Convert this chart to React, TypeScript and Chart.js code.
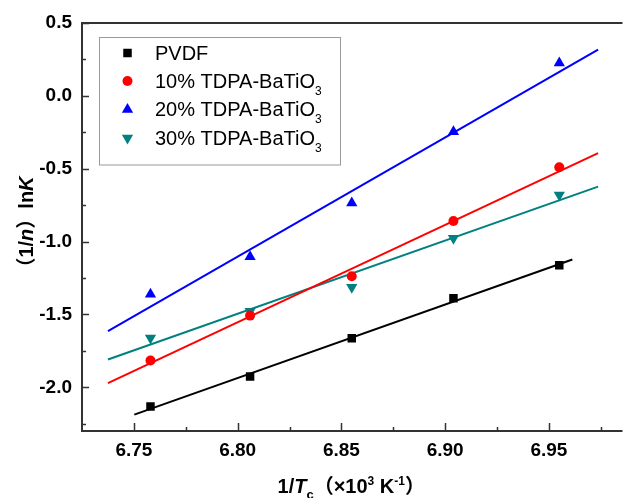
import React, { useEffect, useRef } from "react";
import { Chart, registerables } from "chart.js";

Chart.register(...registerables);

// ---- data ----
const xValues = [6.758, 6.806, 6.855, 6.904, 6.955];
const pvdf = [-2.132, -1.926, -1.664, -1.389, -1.162];
const tdpa10 = [-1.816, -1.508, -1.238, -0.859, -0.49];
const tdpa20 = [-1.362, -1.105, -0.736, -0.247, 0.226];
const tdpa30 = [-1.662, -1.479, -1.313, -0.978, -0.68];

// fitted line end points
const fitX = [6.7375, 6.9737];
const fitXPvdf = [6.7502, 6.9613];
const fitPvdf = [-2.188, -1.123];
const fit10 = [-1.972, -0.393];
const fit20 = [-1.614, 0.318];
const fit30 = [-1.809, -0.623];

const xTicks = [6.75, 6.8, 6.85, 6.9, 6.95];
const xMinorTicks = [6.775, 6.825, 6.875, 6.925, 6.975];
const yTicks = [-2.0, -1.5, -1.0, -0.5, 0.0, 0.5];
const yMinorTicks = [-2.25, -1.75, -1.25, -0.75, -0.25, 0.25];

const seriesNames = ["PVDF", "10% TDPA-BaTiO", "20% TDPA-BaTiO", "30% TDPA-BaTiO"];
const seriesSubs = ["", "3", "3", "3"];
const colors = ["#000000", "#ff0000", "#0000ff", "#008080"];

const FONT = '"Liberation Sans", Arial, "Noto Sans CJK SC", sans-serif';

type Run = { t: string; f: string; dy?: number };

function runsWidth(ctx: CanvasRenderingContext2D, runs: Run[]) {
  let w = 0;
  for (const r of runs) {
    ctx.font = r.f;
    w += ctx.measureText(r.t).width;
  }
  return w;
}
function drawRuns(ctx: CanvasRenderingContext2D, runs: Run[], x: number, y: number) {
  let cx = x;
  for (const r of runs) {
    ctx.font = r.f;
    ctx.fillText(r.t, cx, y + (r.dy || 0));
    cx += ctx.measureText(r.t).width;
  }
}

function drawMarker(ctx: CanvasRenderingContext2D, kind: number, x: number, y: number, color: string) {
  ctx.fillStyle = color;
  ctx.beginPath();
  if (kind === 0) {
    ctx.rect(x - 4.25, y - 4.25, 8.5, 8.5);
  } else if (kind === 1) {
    ctx.arc(x, y, 5, 0, Math.PI * 2);
  } else if (kind === 2) {
    const r = 6.5;
    ctx.moveTo(x, y - r);
    ctx.lineTo(x + r * 0.866, y + r / 2);
    ctx.lineTo(x - r * 0.866, y + r / 2);
  } else {
    const r = 6.5;
    ctx.moveTo(x, y + r);
    ctx.lineTo(x + r * 0.866, y - r / 2);
    ctx.lineTo(x - r * 0.866, y - r / 2);
  }
  ctx.closePath();
  ctx.fill();
}

const decoPlugin = {
  id: "deco",
  afterDraw(chart: any) {
    const { ctx, chartArea: a, scales } = chart;
    const xs = scales.x;
    const ys = scales.y;
    ctx.save();
    // axes frame (left, bottom, top)
    ctx.strokeStyle = "#333333";
    ctx.lineWidth = 2;
    ctx.beginPath();
    ctx.moveTo(a.right + 2, a.top);
    ctx.lineTo(a.left, a.top);
    ctx.lineTo(a.left, a.bottom);
    ctx.lineTo(a.right + 2, a.bottom);
    ctx.stroke();
    // ticks
    ctx.lineWidth = 1.5;
    ctx.beginPath();
    for (const v of xTicks) {
      const px = Math.round(xs.getPixelForValue(v)) + 0.5;
      ctx.moveTo(px, a.bottom);
      ctx.lineTo(px, a.bottom - 8);
    }
    for (const v of xMinorTicks) {
      const px = Math.round(xs.getPixelForValue(v)) + 0.5;
      ctx.moveTo(px, a.bottom);
      ctx.lineTo(px, a.bottom - 4);
    }
    for (const v of yTicks) {
      const py = Math.round(ys.getPixelForValue(v)) + 0.5;
      ctx.moveTo(a.left, py);
      ctx.lineTo(a.left + 7, py);
    }
    for (const v of yMinorTicks) {
      const py = Math.round(ys.getPixelForValue(v)) + 0.5;
      ctx.moveTo(a.left, py);
      ctx.lineTo(a.left + 4, py);
    }
    ctx.stroke();

    // legend
    ctx.strokeStyle = "#999999";
    ctx.lineWidth = 1;
    ctx.fillStyle = "#ffffff";
    ctx.fillRect(99.5, 37.5, 241, 127.5);
    ctx.strokeRect(99.5, 37.5, 241, 127.5);
    const baselines = [59.5, 87.5, 116, 144.5];
    ctx.textBaseline = "alphabetic";
    ctx.textAlign = "left";
    for (let i = 0; i < seriesNames.length; i++) {
      drawMarker(ctx, i, 127.5, baselines[i] - 6.5, colors[i]);
      ctx.fillStyle = "#000";
      const runs: Run[] = [{ t: seriesNames[i], f: `20px ${FONT}` }];
      if (seriesSubs[i]) runs.push({ t: seriesSubs[i], f: `12px ${FONT}`, dy: 7 });
      drawRuns(ctx, runs, 155, baselines[i]);
    }

    // x title
    ctx.fillStyle = "#000";
    const xRuns: Run[] = [
      { t: "1/", f: `bold 20px ${FONT}` },
      { t: "T", f: `italic bold 20px ${FONT}` },
      { t: "c", f: `bold 13px ${FONT}`, dy: 6 },
      { t: "（×10", f: `bold 20px ${FONT}` },
      { t: "3", f: `bold 12px ${FONT}`, dy: -8 },
      { t: " K", f: `bold 20px ${FONT}` },
      { t: "-1", f: `bold 12px ${FONT}`, dy: -8 },
      { t: "）", f: `bold 20px ${FONT}` },
    ];
    const xw = runsWidth(ctx, xRuns);
    drawRuns(ctx, xRuns, (a.left + a.right) / 2 - xw / 2, 493);

    // y title
    const yRuns: Run[] = [
      { t: "（1/", f: `bold 20px ${FONT}` },
      { t: "n", f: `italic bold 20px ${FONT}` },
      { t: "）ln", f: `bold 20px ${FONT}` },
      { t: "K", f: `italic bold 20px ${FONT}` },
    ];
    const yw = runsWidth(ctx, yRuns);
    ctx.translate(33, (a.top + a.bottom) / 2);
    ctx.rotate(-Math.PI / 2);
    drawRuns(ctx, yRuns, -yw / 2, 0);
    ctx.restore();
  },
};

export default function App() {
  const ref = useRef<HTMLCanvasElement | null>(null);
  useEffect(() => {
    if (!ref.current) return;
    const pts = (ys: number[]) => xValues.map((x, i) => ({ x, y: ys[i] }));
    const line = (xs: number[], ys: number[]) => xs.map((x, i) => ({ x, y: ys[i] }));
    const scatterBase = { showLine: false, borderWidth: 0 };
    const lineBase = { showLine: true, pointRadius: 0, borderWidth: 2, fill: false };
    const chart = new Chart(ref.current, {
      type: "scatter",
      data: {
        datasets: [
          { ...scatterBase, label: seriesNames[0], data: pts(pvdf), pointStyle: "rect", pointRadius: 6, backgroundColor: colors[0], borderColor: colors[0] },
          { ...scatterBase, label: seriesNames[1], data: pts(tdpa10), pointStyle: "circle", pointRadius: 5, backgroundColor: colors[1], borderColor: colors[1] },
          { ...scatterBase, label: seriesNames[2], data: pts(tdpa20), pointStyle: "triangle", pointRadius: 6.5, backgroundColor: colors[2], borderColor: colors[2] },
          { ...scatterBase, label: seriesNames[3], data: pts(tdpa30), pointStyle: "triangle", rotation: 180, pointRadius: 6.5, backgroundColor: colors[3], borderColor: colors[3] },
          { ...lineBase, label: "fit0", data: line(fitXPvdf, fitPvdf), borderColor: colors[0] },
          { ...lineBase, label: "fit1", data: line(fitX, fit10), borderColor: colors[1] },
          { ...lineBase, label: "fit2", data: line(fitX, fit20), borderColor: colors[2] },
          { ...lineBase, label: "fit3", data: line(fitX, fit30), borderColor: colors[3] },
        ] as any,
      },
      options: {
        animation: false,
        responsive: false,
        maintainAspectRatio: false,
        devicePixelRatio: 1,
        layout: { padding: { top: 23, left: 0, right: 0, bottom: 0 } },
        plugins: { legend: { display: false }, tooltip: { enabled: false } },
        scales: {
          x: {
            type: "linear",
            position: "bottom",
            min: 6.725,
            max: 6.9845,
            afterBuildTicks: (s: any) => {
              s.ticks = xTicks.map((v) => ({ value: v }));
            },
            afterFit: (s: any) => {
              s.height = 67;
            },
            ticks: {
              autoSkip: false,
              maxRotation: 0,
              padding: 8,
              color: "#000",
              font: { family: FONT, size: 19, weight: "bold" },
              callback: (v: any) => Number(v).toFixed(2),
            },
            grid: { display: false, drawTicks: false },
            border: { display: false },
          },
          y: {
            type: "linear",
            min: -2.3,
            max: 0.5,
            afterBuildTicks: (s: any) => {
              s.ticks = yTicks.map((v) => ({ value: v }));
            },
            afterFit: (s: any) => {
              s.width = 82;
            },
            ticks: {
              autoSkip: false,
              padding: 10,
              color: "#000",
              font: { family: FONT, size: 19, weight: "bold" },
              callback: (v: any) => Number(v).toFixed(1),
            },
            grid: { display: false, drawTicks: false },
            border: { display: false },
          },
        },
      } as any,
      plugins: [decoPlugin],
    });
    return () => chart.destroy();
  }, []);
  return (
    <div style={{ position: "fixed", left: 0, top: 0, width: 627, height: 498, overflow: "hidden", background: "#fff" }}>
      <canvas ref={ref} width={627} height={498} style={{ display: "block" }} />
    </div>
  );
}
